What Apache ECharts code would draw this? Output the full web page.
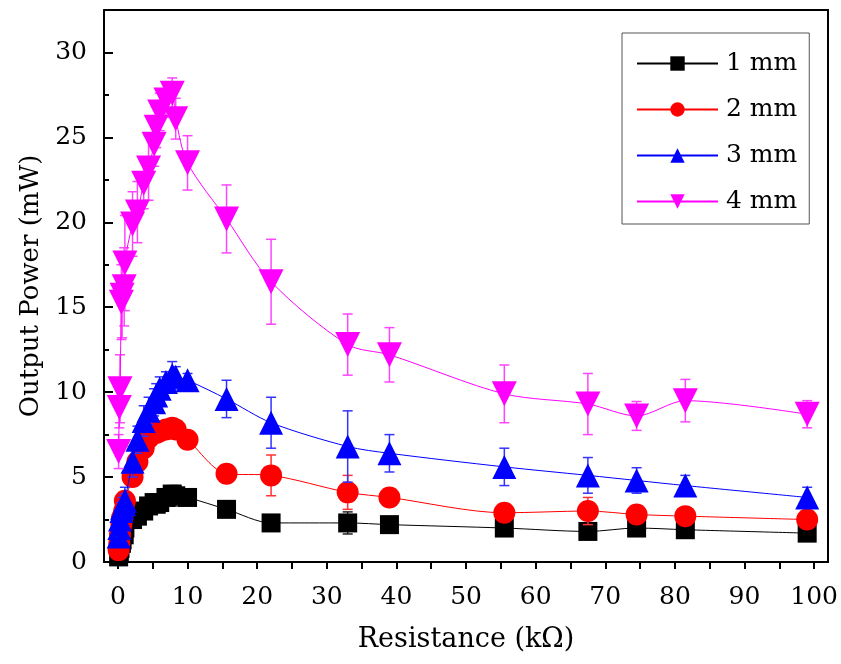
<!DOCTYPE html>
<html>
<head>
<meta charset="utf-8">
<script src="https://cdn.jsdelivr.net/npm/echarts@6/dist/echarts.min.js"></script>
<style>
  html, body { margin: 0; padding: 0; background: #fff; }
  #chart { width: 841px; height: 664px; }
</style>
</head>
<body>
<div id="chart"></div>
<script>
// resistance (kOhm), shared by all four series
const resistance = [0.1, 0.2, 0.3, 0.5, 0.6, 0.9, 1.0, 2.1, 2.8, 3.7, 4.4, 5.2, 5.5, 6.0, 6.9, 7.8, 8.3, 10, 15.6, 22, 33, 39, 55.5, 67.5, 74.5, 81.5, 99];

const power1 = [0.3, 0.5, 0.8, 1.1, 1.3, 1.6, 2.0, 2.5, 2.7, 3.0, 3.3, 3.5, 3.4, 3.5, 3.8, 4.0, 3.9, 3.8, 3.1, 2.3, 2.3, 2.2, 2.0, 1.8, 2.0, 1.9, 1.7];
const power2 = [0.7, 1.1, 1.6, 2.2, 2.6, 3.0, 3.6, 5.0, 5.9, 6.7, 7.3, 7.6, 7.6, 7.7, 7.8, 7.9, 7.8, 7.2, 5.2, 5.1, 4.1, 3.8, 2.9, 3.0, 2.8, 2.7, 2.5];
const power3 = [1.5, 2.0, 2.5, 3.0, 3.2, 3.4, 3.6, 5.9, 7.2, 8.3, 8.9, 9.4, 9.8, 10.2, 10.6, 11.0, 10.9, 10.7, 9.6, 8.2, 6.8, 6.4, 5.6, 5.1, 4.8, 4.5, 3.8];
const power4 = [6.5, 9.1, 10.2, 15.3, 15.7, 16.2, 17.6, 19.9, 20.6, 22.3, 23.2, 24.6, 25.6, 26.5, 27.2, 27.6, 26.1, 23.5, 20.2, 16.5, 12.8, 12.2, 9.9, 9.3, 8.6, 9.5, 8.7];

const err1 = [0.2, 0.2, 0.2, 0.3, 0.3, 0.3, 0.3, 0.3, 0.3, 0.4, 0.4, 0.4, 0.3, 0.3, 0.4, 0.5, 0.6, 0.3, 0.3, 0.2, 0.65, 0.3, 0.2, 0.2, 0.2, 0.2, 0.2];
const err2 = [0.3, 0.3, 0.4, 0.4, 0.5, 0.4, 0.5, 0.5, 0.5, 0.5, 0.5, 0.3, 0.3, 0.3, 0.4, 0.4, 0.3, 0.4, 0.3, 1.2, 1.0, 0.5, 0.3, 0.8, 0.4, 0.2, 0.2];
const err3 = [0.3, 0.4, 0.5, 0.5, 0.6, 0.6, 0.8, 0.9, 0.8, 0.9, 0.8, 0.8, 0.7, 0.7, 0.6, 0.8, 0.6, 0.4, 1.1, 1.5, 2.1, 1.1, 1.1, 1.05, 0.75, 0.6, 0.6];
const err4 = [1.0, 1.2, 2.0, 2.2, 2.5, 2.3, 2.8, 1.9, 1.8, 1.5, 1.9, 1.3, 1.2, 1.1, 1.0, 0.9, 1.2, 1.6, 2.0, 2.5, 1.8, 1.6, 1.7, 1.8, 0.85, 1.25, 0.8];

const xTicks = [0, 10, 20, 30, 40, 50, 60, 70, 80, 90, 100];
const xMinorTicks = [5, 15, 25, 35, 45, 55, 65, 75, 85, 95];

const names = ["1 mm", "2 mm", "3 mm", "4 mm"];
const colors = ["#000000", "#ff0000", "#0000ff", "#ff00ff"];
const barColors = ["#222222", "#ff3333", "#3333ff", "#ff44ff"];
const symbols = ["rect", "circle", "triangle", "triangle"];
const symbolSizes = [19, 22, 24, 25];
const rotates = [0, 0, 0, 180];
const powers = [power1, power2, power3, power4];
const errs = [err1, err2, err3, err4];

const font = "'DejaVu Serif', 'Liberation Serif', serif";

function errorBar(color) {
  return function (params, api) {
    const x = api.value(0), y = api.value(1), e = api.value(2);
    const top = api.coord([x, y + e]);
    const bot = api.coord([x, y - e]);
    const w = 5;
    const style = { stroke: color, lineWidth: 1.5 };
    return {
      type: "group",
      children: [
        { type: "line", shape: { x1: top[0], y1: top[1], x2: bot[0], y2: bot[1] }, style: style },
        { type: "line", shape: { x1: top[0] - w, y1: top[1], x2: top[0] + w, y2: top[1] }, style: style },
        { type: "line", shape: { x1: bot[0] - w, y1: bot[1], x2: bot[0] + w, y2: bot[1] }, style: style }
      ]
    };
  };
}

const series = [];
names.forEach((name, i) => {
  series.push({
    name: name + " err",
    type: "custom",
    renderItem: errorBar(barColors[i]),
    data: resistance.map((r, k) => [r, powers[i][k], errs[i][k]]),
    z: 2 + i * 2,
    silent: true
  });
  series.push({
    name: name,
    type: "line",
    data: resistance.map((r, k) => [r, powers[i][k]]),
    smooth: 0.3,
    symbol: symbols[i],
    symbolSize: symbolSizes[i],
    symbolRotate: rotates[i],
    showAllSymbol: true,
    itemStyle: { color: colors[i] },
    lineStyle: { color: colors[i], width: 1 },
    z: 3 + i * 2
  });
});

const chart = echarts.init(document.getElementById("chart"), null, { renderer: "canvas" });
chart.setOption({
  animation: false,
  backgroundColor: "#fff",
  grid: { left: 104, right: 10, top: 10, bottom: 102 },
  legend: {
    data: names,
    orient: "vertical",
    left: 622,
    top: 33,
    padding: [18, 12, 10, 14],
    itemWidth: 81,
    itemHeight: 18,
    itemGap: 21,
    borderColor: "#555",
    borderWidth: 1,
    textStyle: { fontFamily: font, fontSize: 25, color: "#000", padding: [0, 0, 0, 3] }
  },
  xAxis: [
    {
      type: "value",
      min: -2,
      max: 102,
      interval: 10,
      name: "Resistance (kΩ)",
      nameLocation: "middle",
      nameGap: 64,
      nameTextStyle: { fontFamily: font, fontSize: 27, color: "#000" },
      axisLine: { onZero: false, lineStyle: { color: "#000", width: 2 } },
      axisTick: { show: true, inside: false, length: 7, lineStyle: { width: 2 }, customValues: xTicks },
      minorTick: { show: false },
      axisLabel: { fontFamily: font, fontSize: 25, color: "#000", margin: 23, customValues: xTicks },
      splitLine: { show: false }
    },
    {
      type: "value",
      min: -2,
      max: 102,
      position: "bottom",
      axisLine: { show: false },
      axisTick: { show: true, inside: false, length: 7, lineStyle: { width: 2, color: "#000" }, customValues: xMinorTicks },
      axisLabel: { show: false },
      splitLine: { show: false }
    },
    {
      type: "value",
      min: -2,
      max: 102,
      position: "top",
      axisLine: { show: true, onZero: false, lineStyle: { color: "#000", width: 2 } },
      axisTick: { show: false },
      axisLabel: { show: false },
      splitLine: { show: false }
    }
  ],
  yAxis: [
    {
      type: "value",
      min: 0,
      max: 32.5,
      interval: 5,
      name: "Output Power (mW)",
      nameLocation: "middle",
      nameGap: 56,
      nameTextStyle: { fontFamily: font, fontSize: 26, color: "#000" },
      axisLine: { show: true, onZero: false, lineStyle: { color: "#000", width: 2 } },
      axisTick: { show: true, inside: true, length: 9, lineStyle: { width: 2 } },
      minorTick: { show: true, splitNumber: 2, length: 5, lineStyle: { color: "#000", width: 2 } },
      axisLabel: { fontFamily: font, fontSize: 25, color: "#000", margin: 17, showMaxLabel: false },
      splitLine: { show: false }
    },
    {
      type: "value",
      min: 0,
      max: 32.5,
      position: "right",
      axisLine: { show: true, onZero: false, lineStyle: { color: "#000", width: 2 } },
      axisTick: { show: false },
      axisLabel: { show: false },
      splitLine: { show: false }
    }
  ],
  series: series
});
</script>
</body>
</html>
